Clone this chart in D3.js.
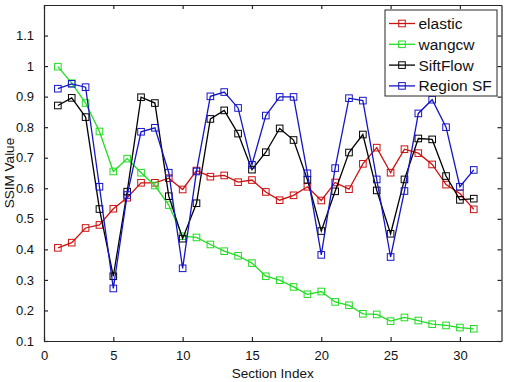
<html>
<meta charset="utf-8" />
<head>
<title>SSIM per section</title>
<script src="https://cdn.jsdelivr.net/npm/d3@7"></script>
<style>
	body { margin: 0; background: #fff; }
	svg { font-family: Arial, "Liberation Sans", sans-serif; }
</style>
<script>
// section index 1..31
const sections = d3.range(1, 32);

const elastic = [0.405, 0.422, 0.470, 0.480, 0.533, 0.569, 0.618, 0.618, 0.633, 0.596,
	0.658, 0.638, 0.642, 0.620, 0.627, 0.588, 0.561, 0.577, 0.605, 0.560,
	0.619, 0.597, 0.680, 0.733, 0.651, 0.728, 0.715, 0.678, 0.612, 0.583, 0.531];
const wangcw = [0.998, 0.944, 0.879, 0.786, 0.655, 0.697, 0.651, 0.609, 0.545, 0.443,
	0.439, 0.416, 0.394, 0.379, 0.355, 0.312, 0.299, 0.277, 0.253, 0.262,
	0.228, 0.217, 0.189, 0.187, 0.165, 0.177, 0.167, 0.155, 0.151, 0.144, 0.140];
const siftFlow = [0.871, 0.896, 0.833, 0.532, 0.312, 0.589, 0.898, 0.879, 0.574, 0.435,
	0.551, 0.827, 0.855, 0.779, 0.661, 0.718, 0.796, 0.758, 0.628, 0.460,
	0.590, 0.717, 0.776, 0.593, 0.451, 0.629, 0.763, 0.760, 0.640, 0.562, 0.566];
const regionSF = [0.926, 0.942, 0.931, 0.605, 0.272, 0.578, 0.785, 0.798, 0.651, 0.338,
	0.655, 0.901, 0.915, 0.863, 0.677, 0.838, 0.899, 0.899, 0.649, 0.382,
	0.666, 0.895, 0.887, 0.629, 0.375, 0.591, 0.845, 0.890, 0.800, 0.605, 0.660];

const seriesNames = ['elastic', 'wangcw', 'SiftFlow', 'Region SF'];
const seriesColors = ['#cc1111', '#22dd22', '#000000', '#1515c8'];

const xTicks = [0, 5, 10, 15, 20, 25, 30];
const yTicks = [0.1, 0.2, 0.3, 0.4, 0.5, 0.6, 0.7, 0.8, 0.9, 1, 1.1];

window.onload = function() {
	const svg = d3.select('svg');
	const left = 44, right = 501.5, top = 5, bottom = 341;

	const xScale = d3.scaleLinear().domain([0, 33]).range([left, right]);
	const yScale = d3.scaleLinear().domain([0.1, 1.2]).range([bottom, top]);

	const axisColor = '#262626';
	const fmt = d => d3.format('')(+d.toFixed(1));

	// 4 axes, ticks pointing inward (matlab box)
	svg.append('g').attr('transform', `translate(0,${bottom})`)
		.call(d3.axisBottom(xScale).tickValues(xTicks).tickSizeInner(-4).tickSizeOuter(0).tickPadding(10));
	svg.append('g').attr('transform', `translate(0,${top})`)
		.call(d3.axisTop(xScale).tickValues(xTicks).tickSizeInner(-4).tickSizeOuter(0).tickFormat(''));
	svg.append('g').attr('transform', `translate(${left},0)`)
		.call(d3.axisLeft(yScale).tickValues(yTicks).tickSizeInner(-4).tickSizeOuter(0).tickPadding(10).tickFormat(fmt));
	svg.append('g').attr('transform', `translate(${right},0)`)
		.call(d3.axisRight(yScale).tickValues(yTicks).tickSizeInner(-4).tickSizeOuter(0).tickFormat(''));

	svg.selectAll('.domain, .tick line').attr('stroke', axisColor).attr('stroke-width', 1.2);
	svg.selectAll('.tick text').attr('fill', '#111').style('font-size', '13px').style('font-family', 'Arial, "Liberation Sans", sans-serif');

	// series
	const allSeries = [elastic, wangcw, siftFlow, regionSF];
	const line = d3.line().x((d, i) => xScale(sections[i])).y(d => yScale(d));

	allSeries.forEach((vals, k) => {
		const g = svg.append('g');
		g.append('path').datum(vals)
			.attr('d', line)
			.attr('fill', 'none')
			.attr('stroke', seriesColors[k])
			.attr('stroke-width', 1.3);
		g.selectAll('rect').data(vals).enter().append('rect')
			.attr('x', (d, i) => xScale(sections[i]) - 3.3)
			.attr('y', d => yScale(d) - 3.3)
			.attr('width', 6.6).attr('height', 6.6)
			.attr('fill', 'none')
			.attr('stroke', seriesColors[k])
			.attr('stroke-width', 1);
	});

	// labels
	svg.append('text').attr('x', (left + right) / 2).attr('y', 378)
		.attr('text-anchor', 'middle').style('font-size', '13.5px').attr('fill', '#111')
		.text('Section Index');
	svg.append('text').attr('transform', `translate(14,${(top + bottom) / 2}) rotate(-90)`)
		.attr('text-anchor', 'middle').style('font-size', '13.5px').attr('fill', '#111')
		.text('SSIM Value');

	// legend
	const lg = svg.append('g');
	lg.append('rect').attr('x', 385).attr('y', 10).attr('width', 112).attr('height', 86)
		.attr('fill', '#fff').attr('stroke', axisColor).attr('stroke-width', 1);
	seriesNames.forEach((name, k) => {
		const yy = 23.5 + k * 20.8;
		lg.append('line').attr('x1', 389).attr('x2', 415).attr('y1', yy).attr('y2', yy)
			.attr('stroke', seriesColors[k]).attr('stroke-width', 1.3);
		lg.append('rect').attr('x', 402 - 3.3).attr('y', yy - 3.3).attr('width', 6.6).attr('height', 6.6)
			.attr('fill', 'none').attr('stroke', seriesColors[k]).attr('stroke-width', 1);
		lg.append('text').attr('x', 418.5).attr('y', yy + 5.5)
			.style('font-size', '15.5px').attr('fill', '#111').text(name);
	});
}
</script>
</head>
<body>
<svg width="510" height="382"></svg>
</body>
</html>
